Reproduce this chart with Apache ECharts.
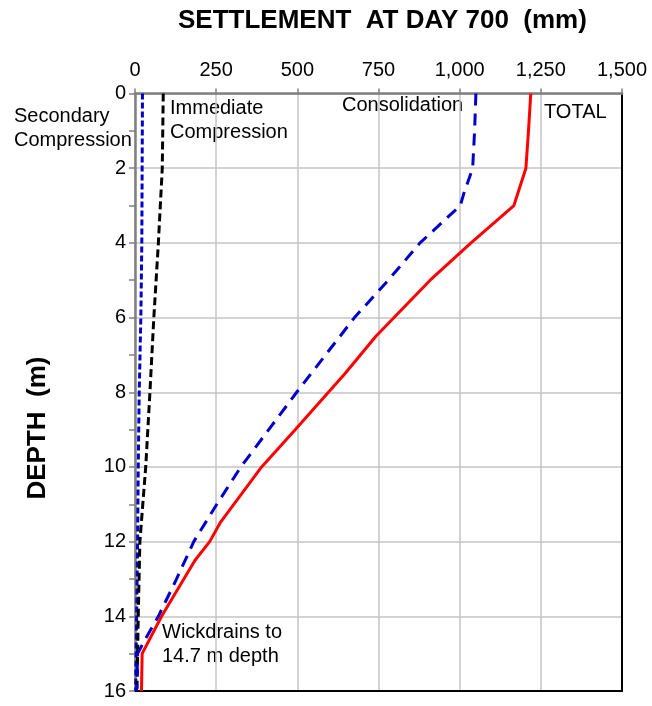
<!DOCTYPE html>
<html>
<head>
<meta charset="utf-8">
<script src="https://cdn.jsdelivr.net/npm/echarts@6/dist/echarts.min.js"></script>
<style>
  html, body { margin: 0; padding: 0; background: #fff; }
  #chart { width: 652px; height: 706px; }
</style>
</head>
<body>
<div id="chart"></div>
<script>
// Settlement profiles at day 700 (mm) versus depth (m)
const xTicks = [0, 250, 500, 750, 1000, 1250, 1500];
const yTicks = [0, 2, 4, 6, 8, 10, 12, 14, 16];

const depthTotal = [0, 1, 2, 3, 4, 5, 6.5, 7.5, 9, 10, 11.5, 12, 12.5, 14, 15, 16];
const total      = [1219, 1212, 1204, 1167, 1035, 909, 742, 647, 494, 390, 262, 230, 185, 82, 22, 20];

const depthCons = [0, 1, 2, 2.7, 3, 4, 5, 6, 8, 9, 10, 11, 12, 13, 14, 14.7, 15, 16];
const consolidation = [1050, 1046, 1040, 1012, 1002, 878, 780, 676, 498, 412, 326, 252, 181, 128, 72, 26, 8, 5];

const depthImm = [0, 2, 4, 6, 8, 10, 12, 14, 16];
const immediate = [87, 84, 72, 58, 46, 33, 15, 10, 6];

const depthSec = [0, 4, 6, 8, 10, 12, 14, 16];
const secondary = [23, 21, 18, 13, 10, 8, 5, 2];

const FONT = '"Liberation Sans", Arial, sans-serif';

function pairs(vals, depths) {
  return vals.map((v, i) => [v, depths[i]]);
}

const chart = echarts.init(document.getElementById('chart'));

const grid = { left: 135, right: 30, top: 93.5, bottom: 15 };

const option = {
  animation: false,
  backgroundColor: '#fff',
  grid: grid,
  xAxis: [
    {
      type: 'value',
      position: 'top',
      min: xTicks[0],
      max: xTicks[xTicks.length - 1],
      interval: xTicks[1] - xTicks[0],
      axisLine: { show: true, lineStyle: { color: '#808080', width: 2.5 } },
      axisTick: { show: true, length: 5, lineStyle: { color: '#808080', width: 1.5 } },
      axisLabel: {
        margin: 13,
        color: '#000',
        fontSize: 20,
        fontFamily: FONT,
        formatter: v => v.toLocaleString('en-US')
      },
      splitLine: { show: true, lineStyle: { color: '#c4c4c4', width: 1.5 } }
    },
    {
      type: 'value',
      position: 'bottom',
      min: xTicks[0],
      max: xTicks[xTicks.length - 1],
      axisLine: { show: true, onZero: false, lineStyle: { color: '#000', width: 2 } },
      axisTick: { show: false },
      axisLabel: { show: false },
      splitLine: { show: false }
    }
  ],
  yAxis: [
    {
      type: 'value',
      inverse: true,
      min: yTicks[0],
      max: yTicks[yTicks.length - 1],
      interval: yTicks[1] - yTicks[0],
      axisLine: { show: true, onZero: false, lineStyle: { color: '#808080', width: 2.5 } },
      axisTick: { show: true, length: 6, lineStyle: { color: '#808080', width: 1.5 } },
      minorTick: { show: true, splitNumber: 2, length: 6, lineStyle: { color: '#808080', width: 1.5 } },
      axisLabel: { margin: 9, color: '#000', fontSize: 20, fontFamily: FONT },
      splitLine: { show: true, lineStyle: { color: '#c4c4c4', width: 1.5 } }
    },
    {
      type: 'value',
      position: 'right',
      inverse: true,
      min: yTicks[0],
      max: yTicks[yTicks.length - 1],
      axisLine: { show: true, onZero: false, lineStyle: { color: '#000', width: 2 } },
      axisTick: { show: false },
      axisLabel: { show: false },
      splitLine: { show: false }
    }
  ],
  series: [
    {
      name: 'Secondary Compression',
      type: 'line',
      data: pairs(secondary, depthSec),
      showSymbol: false,
      lineStyle: { color: '#0000cc', width: 3, type: [6, 3] },
      z: 2
    },
    {
      name: 'Immediate Compression',
      type: 'line',
      data: pairs(immediate, depthImm),
      showSymbol: false,
      lineStyle: { color: '#000', width: 3, type: [8, 4] },
      z: 2
    },
    {
      name: 'Consolidation',
      type: 'line',
      data: pairs(consolidation, depthCons),
      showSymbol: false,
      lineStyle: { color: '#0000cc', width: 3, type: [12, 8] },
      z: 3
    },
    {
      name: 'TOTAL',
      type: 'line',
      data: pairs(total, depthTotal),
      showSymbol: false,
      lineStyle: { color: '#ff0000', width: 3 },
      z: 4
    }
  ],
  graphic: [
    {
      type: 'text', left: 178, top: 8,
      style: { text: 'SETTLEMENT  AT DAY 700  (mm)', fill: '#000', font: 'bold 26px ' + FONT }
    },
    {
      type: 'text', x: 38, y: 428, rotation: Math.PI / 2,
      style: {
        text: 'DEPTH  (m)', fill: '#000', font: 'bold 26px ' + FONT,
        align: 'center', verticalAlign: 'middle'
      }
    },
    {
      type: 'text', left: 14, top: 104,
      style: { text: 'Secondary\nCompression', fill: '#000', font: '20px ' + FONT, lineHeight: 24 }
    },
    {
      type: 'text', left: 170, top: 96,
      style: { text: 'Immediate\nCompression', fill: '#000', font: '20px ' + FONT, lineHeight: 24 }
    },
    {
      type: 'text', left: 342, top: 95,
      style: { text: 'Consolidation', fill: '#000', font: '20px ' + FONT }
    },
    {
      type: 'text', left: 544, top: 102,
      style: { text: 'TOTAL', fill: '#000', font: '20px ' + FONT }
    },
    {
      type: 'text', left: 162, top: 620,
      style: { text: 'Wickdrains to\n14.7 m depth', fill: '#000', font: '20px ' + FONT, lineHeight: 24 }
    }
  ]
};

chart.setOption(option);
</script>
</body>
</html>
